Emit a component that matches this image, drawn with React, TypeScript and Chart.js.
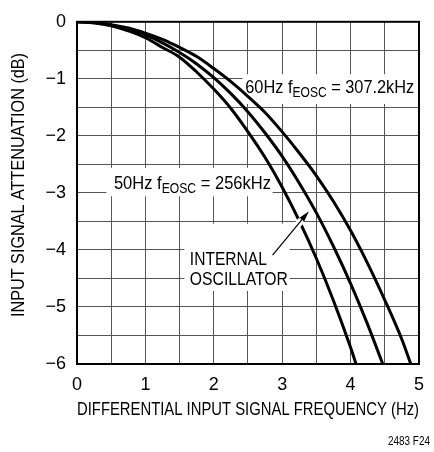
import React, { useEffect, useRef } from 'react';
import { Chart, registerables } from 'chart.js';

Chart.register(...registerables);

const FONT = '"Liberation Sans", Arial, sans-serif';

// 50Hz (fEOSC = 256kHz) curve
const freq50 = [0, 0.25, 0.5, 0.75, 1.0, 1.25, 1.5, 1.75, 2.0, 2.25, 2.5, 2.75, 3.0, 3.25, 3.5, 3.75, 4.0, 4.08];
const atten50 = [0, -0.02, -0.07, -0.16, -0.28, -0.45, -0.62, -0.88, -1.18, -1.52, -1.93, -2.38, -2.9, -3.49, -4.15, -4.89, -5.71, -6.0];

// Internal oscillator curve
const freqInt = [0, 0.25, 0.5, 0.75, 1.0, 1.25, 1.5, 1.75, 2.0, 2.25, 2.5, 2.75, 3.0, 3.25, 3.5, 3.75, 4.0, 4.25, 4.47];
const attenInt = [0, -0.01, -0.06, -0.13, -0.23, -0.37, -0.54, -0.74, -0.98, -1.26, -1.58, -1.95, -2.36, -2.83, -3.35, -3.94, -4.59, -5.31, -6.0];

// 60Hz (fEOSC = 307.2kHz) curve
const freq60 = [0, 0.25, 0.5, 0.75, 1.0, 1.25, 1.5, 1.75, 2.0, 2.25, 2.5, 2.75, 3.0, 3.25, 3.5, 3.75, 4.0, 4.25, 4.5, 4.75, 4.88];
const atten60 = [0, -0.01, -0.05, -0.11, -0.2, -0.31, -0.45, -0.61, -0.82, -1.05, -1.31, -1.59, -1.93, -2.3, -2.7, -3.15, -3.66, -4.24, -4.88, -5.57, -6.0];

const xTickValues = [0, 1, 2, 3, 4, 5];
const xTickLabels = ['0', '1', '2', '3', '4', '5'];
const yTickValues = [0, -1, -2, -3, -4, -5, -6];
const yTickLabels = ['0', '\u22121', '\u22122', '\u22123', '\u22124', '\u22125', '\u22126'];

const xTitle = 'DIFFERENTIAL INPUT SIGNAL FREQUENCY (Hz)';
const yTitle = 'INPUT SIGNAL ATTENUATION (dB)';
const figureId = '2483 F24';

const label60 = ['60Hz f', 'EOSC', ' = 307.2kHz'];
const label50 = ['50Hz f', 'EOSC', ' = 256kHz'];
const labelInternal = ['INTERNAL', 'OSCILLATOR'];

function toPoints(xs: number[], ys: number[]) {
  return xs.map((x, i) => ({ x, y: ys[i] }));
}

type Part = { t: string; size: number; dy: number };

function drawScaled(ctx: CanvasRenderingContext2D, parts: Part[], x: number, y: number, targetW: number) {
  const widths: number[] = [];
  let total = 0;
  for (const p of parts) {
    ctx.font = `${p.size}px ${FONT}`;
    const w = ctx.measureText(p.t).width;
    widths.push(w);
    total += w;
  }
  const k = targetW / total;
  ctx.save();
  ctx.translate(x, y);
  ctx.scale(k, 1);
  let cx = 0;
  parts.forEach((p, i) => {
    ctx.font = `${p.size}px ${FONT}`;
    ctx.fillText(p.t, cx, p.dy);
    cx += widths[i];
  });
  ctx.restore();
}

const annotationPlugin = {
  id: 'ltcAnnotations',
  beforeDatasetsDraw(chart: any) {
    const { ctx, scales } = chart;
    const xs = scales.x;
    const ys = scales.y;
    const boxes = [
      [2.42, -0.92, 5.0, -1.44],
      [0.43, -2.56, 2.86, -3.06],
      [1.57, -3.54, 3.11, -4.72],
    ];
    ctx.save();
    ctx.fillStyle = '#ffffff';
    for (const b of boxes) {
      const x0 = xs.getPixelForValue(b[0]);
      const x1 = xs.getPixelForValue(b[2]);
      const y0 = ys.getPixelForValue(b[1]);
      const y1 = ys.getPixelForValue(b[3]);
      ctx.fillRect(x0, y0, x1 - x0, y1 - y0);
    }
    ctx.restore();
  },
  afterDatasetsDraw(chart: any) {
    const { ctx, scales, chartArea } = chart;
    const xs = scales.x;
    const ys = scales.y;
    ctx.save();
    // frame
    ctx.strokeStyle = '#000';
    ctx.lineWidth = 2;
    ctx.strokeRect(chartArea.left, chartArea.top, chartArea.right - chartArea.left, chartArea.bottom - chartArea.top);

    ctx.fillStyle = '#000';
    ctx.textBaseline = 'alphabetic';
    ctx.textAlign = 'left';

    const subParts = (p: string[]): Part[] => [
      { t: p[0], size: 19, dy: 0 },
      { t: p[1], size: 14, dy: 4 },
      { t: p[2], size: 19, dy: 0 },
    ];
    drawScaled(ctx, subParts(label60), xs.getPixelForValue(2.46), ys.getPixelForValue(-1.25), 169);
    drawScaled(ctx, subParts(label50), xs.getPixelForValue(0.54), ys.getPixelForValue(-2.94), 157);
    drawScaled(ctx, [{ t: labelInternal[0], size: 19, dy: 0 }], xs.getPixelForValue(1.65), ys.getPixelForValue(-4.26), 77);
    drawScaled(ctx, [{ t: labelInternal[1], size: 19, dy: 0 }], xs.getPixelForValue(1.65), ys.getPixelForValue(-4.62), 98);

    // arrow
    const ax0 = xs.getPixelForValue(2.86);
    const ay0 = ys.getPixelForValue(-4.09);
    const ax1 = xs.getPixelForValue(3.39);
    const ay1 = ys.getPixelForValue(-3.32);
    const dx = ax1 - ax0;
    const dy = ay1 - ay0;
    const len = Math.hypot(dx, dy);
    const ux = dx / len;
    const uy = dy / len;
    ctx.strokeStyle = '#fff';
    ctx.lineWidth = 7;
    ctx.beginPath();
    ctx.moveTo(ax0 + dx * 0.45, ay0 + dy * 0.45);
    ctx.lineTo(ax0 + dx * 0.8, ay0 + dy * 0.8);
    ctx.stroke();
    ctx.strokeStyle = '#000';
    ctx.lineWidth = 1.2;
    ctx.beginPath();
    ctx.moveTo(ax0, ay0);
    ctx.lineTo(ax1 - ux * 8, ay1 - uy * 8);
    ctx.stroke();
    const hl = 11;
    const hw = 3;
    ctx.beginPath();
    ctx.moveTo(ax1, ay1);
    ctx.lineTo(ax1 - ux * hl - uy * hw, ay1 - uy * hl + ux * hw);
    ctx.lineTo(ax1 - ux * hl + uy * hw, ay1 - uy * hl - ux * hw);
    ctx.closePath();
    ctx.fill();

    // y axis title (condensed)
    ctx.save();
    ctx.translate(19, 185);
    ctx.rotate(-Math.PI / 2);
    ctx.textAlign = 'center';
    ctx.textBaseline = 'middle';
    ctx.font = `18.5px ${FONT}`;
    ctx.fillText(yTitle, 0, 0, 264);
    ctx.restore();

    // figure id
    ctx.textAlign = 'left';
    drawScaled(ctx, [{ t: figureId, size: 12, dy: 0 }], 388, 445, 42);
    ctx.restore();
  },
};

export default function App() {
  const canvasRef = useRef<HTMLCanvasElement | null>(null);

  useEffect(() => {
    document.body.style.margin = '0';
    const canvas = canvasRef.current;
    if (!canvas) return;
    const curveStyle = {
      borderColor: '#000',
      borderWidth: 3,
      pointRadius: 0,
      fill: false,
      cubicInterpolationMode: 'monotone' as const,
    };
    const chart = new Chart(canvas, {
      type: 'line',
      data: {
        datasets: [
          { label: '50Hz', data: toPoints(freq50, atten50), ...curveStyle },
          { label: 'Internal', data: toPoints(freqInt, attenInt), ...curveStyle },
          { label: '60Hz', data: toPoints(freq60, atten60), ...curveStyle },
        ],
      },
      options: {
        animation: false,
        responsive: false,
        maintainAspectRatio: false,
        layout: { padding: { left: 0, right: 5, top: 13, bottom: 0 } },
        plugins: { legend: { display: false }, tooltip: { enabled: false } },
        scales: {
          x: {
            type: 'linear',
            min: 0,
            max: 5,
            afterFit: (s: any) => { s.height = 88; },
            grid: { color: '#555', lineWidth: 1, drawTicks: false },
            border: { display: false },
            ticks: {
              stepSize: 0.5,
              autoSkip: false,
              maxRotation: 0,
              padding: 10,
              color: '#000',
              font: { family: FONT, size: 18 },
              callback: (v: any) => {
                const i = xTickValues.indexOf(Number(v));
                return i >= 0 ? xTickLabels[i] : '';
              },
            },
            title: {
              display: true,
              text: xTitle,
              color: '#000',
              font: { family: FONT, size: 18.5 },
              padding: { top: 0, bottom: 31 },
            },
          },
          y: {
            type: 'linear',
            min: -6,
            max: 0,
            afterFit: (s: any) => { s.width = 77; },
            grid: { color: '#555', lineWidth: 1, drawTicks: false },
            border: { display: false },
            ticks: {
              stepSize: 0.5,
              autoSkip: false,
              padding: 11,
              color: '#000',
              font: { family: FONT, size: 18 },
              callback: (v: any) => {
                const i = yTickValues.indexOf(Number(v));
                return i >= 0 ? yTickLabels[i] : '';
              },
            },
            title: { display: false, text: yTitle },
          },
        },
      },
      plugins: [annotationPlugin],
    });
    return () => chart.destroy();
  }, []);

  return (
    <div style={{ width: 434, height: 452, background: '#fff' }}>
      <canvas ref={canvasRef} width={434} height={452} style={{ display: 'block' }} />
    </div>
  );
}
